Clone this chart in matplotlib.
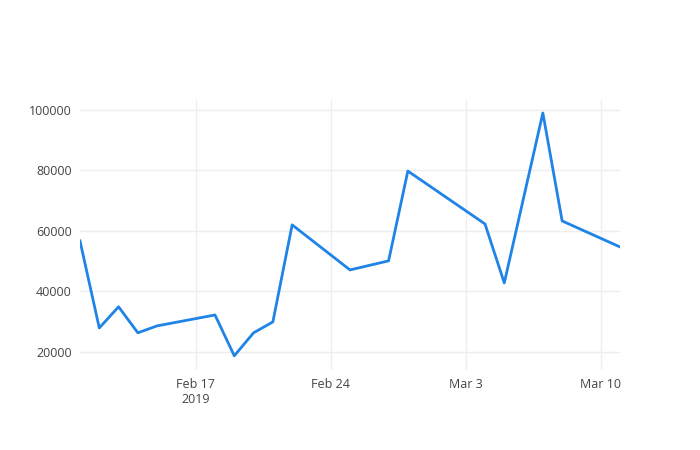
import matplotlib
matplotlib.use("Agg")
import matplotlib.pyplot as plt
import matplotlib.dates as mdates
import numpy as np

dates = ["2019-02-11", "2019-02-12", "2019-02-13", "2019-02-14", "2019-02-15",
         "2019-02-18", "2019-02-19", "2019-02-20", "2019-02-21", "2019-02-22",
         "2019-02-25", "2019-02-27", "2019-02-28", "2019-03-04", "2019-03-05",
         "2019-03-07", "2019-03-08", "2019-03-11"]
values = [56700, 27900, 34900, 26300, 28600, 32200, 18700, 26300, 29900, 62000,
          47100, 50100, 79800, 62300, 42800, 99000, 63300, 54700]
tick_dates = ["2019-02-17", "2019-02-24", "2019-03-03", "2019-03-10"]
tick_labels = ["Feb 17\n2019", "Feb 24", "Mar 3", "Mar 10"]
y_ticks = [20000, 40000, 60000, 80000, 100000]

plt.rcParams['font.family'] = ['Open Sans', 'DejaVu Sans']
x = np.array(dates, dtype="datetime64[D]")

fig = plt.figure(figsize=(7, 4.5), dpi=100)
ax = fig.add_axes([80 / 700, 80 / 450, 540 / 700, 270 / 450])
ax.plot(x, values, color="#1f83e8", linewidth=2)

ax.set_xlim(x[0], x[-1])
ax.set_ylim(14000, 103300)
ax.set_xticks(np.array(tick_dates, dtype="datetime64[D]"))
ax.set_xticklabels(tick_labels)
ax.set_yticks(y_ticks)
ax.set_yticklabels([str(v) for v in y_ticks])
ax.grid(True, color="#eeeeee", linewidth=1)
ax.set_axisbelow(True)
for s in ax.spines.values():
    s.set_visible(False)
ax.tick_params(length=0, labelsize=9, colors="#444444", pad=6)

fig.savefig("out.png", dpi=100)
